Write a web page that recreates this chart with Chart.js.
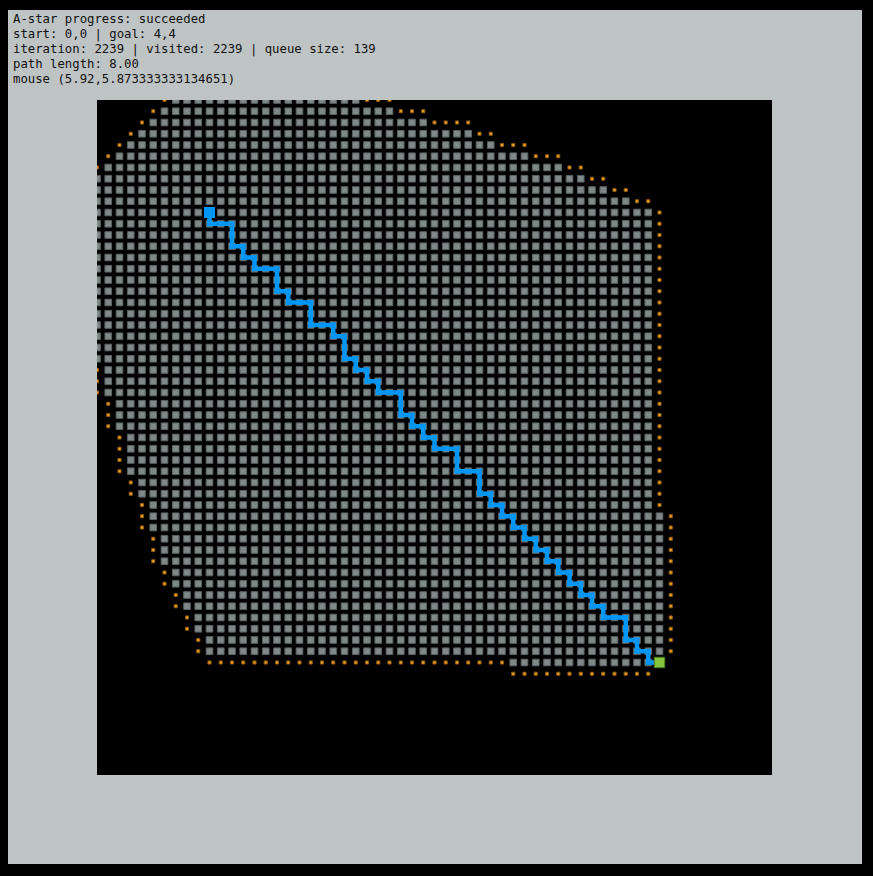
<!DOCTYPE html>
<html>
<head>
<meta charset="utf-8">
<script src="https://cdn.jsdelivr.net/npm/chart.js@4.4.1/dist/chart.umd.min.js"></script>
<style>
html, body { margin: 0; padding: 0; background: #000; width: 873px; height: 876px; overflow: hidden; }
#panel { position: absolute; left: 8px; top: 10px; width: 854px; height: 854px; background: #bec4c4; }
#info { position: absolute; left: 13px; top: 12px; font: 12.3px/15px "DejaVu Sans Mono", monospace; color: #111; white-space: pre; }
#grid { position: absolute; left: 97px; top: 100px; background: #000; }
</style>
</head>
<body>
<div id="panel"></div>
<div id="info"></div>
<canvas id="grid" width="675" height="675"></canvas>
<script>
const status = 'succeeded';
const start = [0, 0];
const goal = [4, 4];
const iteration = 2239;
const mouse = '5.92,5.873333333134651';

// grid cells are 0.1 wide, column/row 0 sits at -1
const cellSize = 0.1;
const origin = -1;

// visited cells: one run of columns per row, rows 0..50
const visitedFrom = [7, 6, 5, 4, 3, 2, 1,
  0, 0, 0, 0, 0, 0, 0, 0, 0, 0, 0, 0, 0, 0, 0, 0, 0,
  1, 1, 1, 2, 2, 2, 3, 3, 3, 3, 4, 4, 5, 5, 5, 6, 6, 6, 7, 7, 8, 8, 9, 9, 10, 10,
  37];
const visitedTo = [23, 26, 29, 33, 35, 38, 41, 43, 45, 47,
  49, 49, 49, 49, 49, 49, 49, 49, 49, 49, 49, 49, 49, 49, 49, 49, 49, 49, 49, 49, 49, 49, 49, 49, 49, 49, 49,
  50, 50, 50, 50, 50, 50, 50, 50, 50, 50, 50, 50, 50, 50];

// queue (open set) cells as blocks: columns colA..colB, rows rowA..rowB
const queueColA = [6, 24, 5, 27, 4, 30, 3, 34, 2, 36, 1, 39, 0, 42, 44, 46, 48, 50, 0, 1, 2, 3, 4, 5, 6, 7, 8, 9, 51, 10, 37];
const queueColB = [6, 26, 5, 29, 4, 33, 3, 35, 2, 38, 1, 41, 0, 43, 45, 47, 49, 50, 0, 1, 2, 3, 4, 5, 6, 7, 8, 9, 51, 36, 49];
const queueRowA = [0, 0, 1, 1, 2, 2, 3, 3, 4, 4, 5, 5, 6, 6, 7, 8, 9, 10, 24, 27, 30, 34, 36, 39, 42, 44, 46, 48, 37, 50, 51];
const queueRowB = [0, 0, 1, 1, 2, 2, 3, 3, 4, 4, 5, 5, 6, 6, 7, 8, 9, 36, 26, 29, 33, 35, 38, 41, 43, 45, 47, 49, 49, 50, 51];

// found path, cell by cell
const pathCol = [10, 10, 11, 12, 12, 12, 13, 13, 14, 14, 15, 16, 16, 16, 17, 17, 18, 19, 19, 19, 20, 21, 21, 22, 22, 22, 23, 23, 24, 24, 25, 25, 26, 27, 27, 27, 28, 28, 29, 29, 30, 30, 31, 32, 32, 32, 33, 34, 34, 34, 35, 35, 36, 36, 37, 37, 38, 38, 39, 39, 40, 40, 41, 41, 42, 42, 43, 43, 44, 44, 45, 45, 46, 47, 47, 47, 48, 48, 49, 49, 50];
const pathRow = [10, 11, 11, 11, 12, 13, 13, 14, 14, 15, 15, 15, 16, 17, 17, 18, 18, 18, 19, 20, 20, 20, 21, 21, 22, 23, 23, 24, 24, 25, 25, 26, 26, 26, 27, 28, 28, 29, 29, 30, 30, 31, 31, 31, 32, 33, 33, 33, 34, 35, 35, 36, 36, 37, 37, 38, 38, 39, 39, 40, 40, 41, 41, 42, 42, 43, 43, 44, 44, 45, 45, 46, 46, 46, 47, 48, 48, 49, 49, 50, 50];

function cell(c, r) {
    return { x: origin + c * cellSize, y: origin + r * cellSize };
}

const visited = [];
visitedFrom.forEach((from, r) => {
    for (let c = from; c <= visitedTo[r]; c++) visited.push(cell(c, r));
});

const queue = [];
queueColA.forEach((ca, i) => {
    for (let r = queueRowA[i]; r <= queueRowB[i]; r++)
        for (let c = ca; c <= queueColB[i]; c++) queue.push(cell(c, r));
});

const path = pathCol.map((c, i) => cell(c, pathRow[i]));
let pathLength = 0;
for (let i = 1; i < path.length; i++)
    pathLength += Math.hypot(path[i].x - path[i - 1].x, path[i].y - path[i - 1].y);

document.getElementById('info').textContent =
    'A-star progress: ' + status + '\n' +
    'start: ' + start.join(',') + ' | goal: ' + goal.join(',') + '\n' +
    'iteration: ' + iteration + ' | visited: ' + visited.length + ' | queue size: ' + queue.length + '\n' +
    'path length: ' + pathLength.toFixed(2) + '\n' +
    'mouse (' + mouse + ')';

const ctx = document.getElementById('grid').getContext('2d');
new Chart(ctx, {
    type: 'scatter',
    data: {
        datasets: [
            {
                label: 'goal',
                data: [{ x: goal[0], y: goal[1] }],
                pointStyle: 'rect',
                pointRadius: 7.4,
                backgroundColor: '#86c440',
                borderColor: '#4f7d22',
                borderWidth: 1,
                order: 0
            },
            {
                label: 'start',
                data: [{ x: start[0], y: start[1] }],
                pointStyle: 'rect',
                pointRadius: 7.8,
                backgroundColor: '#0096f5',
                borderWidth: 0,
                order: 1
            },
            {
                label: 'path',
                data: path,
                showLine: true,
                borderColor: '#0096f5',
                borderWidth: 4.5,
                borderJoinStyle: 'miter',
                pointStyle: 'rect',
                pointRadius: 3.6,
                backgroundColor: '#0096f5',
                pointBorderWidth: 0,
                order: 2
            },
            {
                label: 'queue',
                data: queue,
                pointStyle: 'rect',
                pointRadius: 2.2,
                backgroundColor: '#f2a424',
                borderColor: '#8a5710',
                borderWidth: 1,
                order: 3
            },
            {
                label: 'visited',
                data: visited,
                pointStyle: 'rect',
                pointRadius: 4.7,
                backgroundColor: '#808888',
                borderColor: '#596060',
                borderWidth: 1,
                order: 4
            }
        ]
    },
    options: {
        responsive: false,
        animation: false,
        devicePixelRatio: 1,
        events: [],
        layout: { padding: 0, autoPadding: false },
        plugins: { legend: { display: false }, tooltip: { enabled: false } },
        scales: {
            x: { type: 'linear', min: -1, max: 5, display: false },
            y: { type: 'linear', min: -1, max: 5, reverse: true, display: false }
        }
    }
});
</script>
</body>
</html>
